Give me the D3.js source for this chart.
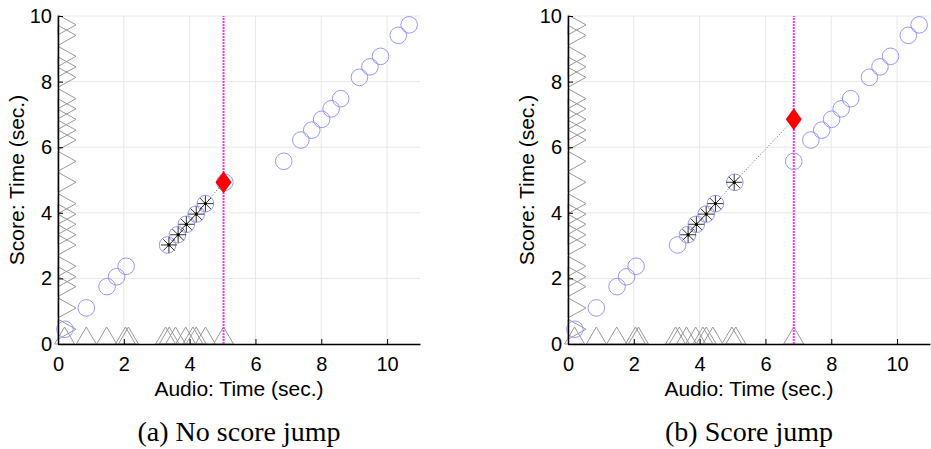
<!DOCTYPE html>
<html>
<head>
<meta charset="utf-8">
<script src="https://cdn.jsdelivr.net/npm/d3@7"></script>
<style>
  body { margin: 0; background: #fff; }
  svg { display: block; }
  .tick text { font-family: "Liberation Sans", Arial, sans-serif; font-size: 20px; fill: #000; }
</style>
</head>
<body>
<svg id="chart" width="931" height="449"></svg>
<script>
// onset positions (seconds)
var audioOnsets = [0.21, 0.86, 1.49, 1.78, 2.07, 3.33, 3.63, 3.9, 4.2, 4.48, 5.07, 6.86, 7.38, 7.71, 8.01, 8.3, 8.59, 9.16, 9.48, 9.8, 10.34, 10.67];
var scoreOnsets = [0.45, 1.1, 1.75, 2.05, 2.37, 3.02, 3.33, 3.65, 3.96, 4.28, 4.93, 5.57, 6.22, 6.52, 6.85, 7.17, 7.48, 8.13, 8.45, 8.77, 9.41, 9.73];

// detected audio onsets so far (bottom triangles)
var detectedA = [0.2, 0.86, 1.48, 2.05, 2.14, 3.27, 3.38, 3.57, 3.88, 4.1, 4.2, 4.48, 5.03];
var detectedB = [0.2, 0.86, 1.48, 2.05, 2.14, 3.27, 3.38, 3.6, 3.88, 4.1, 4.2, 4.4, 4.98, 5.1, 6.86];

// aligned path (stars) and current estimate (diamond)
var pathAudioA = [3.37, 3.65, 3.9, 4.2, 4.48];
var pathScoreA = [3.02, 3.33, 3.65, 3.96, 4.28];
var pathAudioB = [3.65, 3.9, 4.2, 4.48, 5.05];
var pathScoreB = [3.33, 3.65, 3.96, 4.28, 4.93];
var currentA = [5.03, 4.93];
var currentB = [6.86, 6.85];

var xTicks = [0, 2, 4, 6, 8, 10];
var yTicks = [0, 2, 4, 6, 8, 10];
var captions = ["(a) No score jump", "(b) Score jump"];

var svg = d3.select("#chart");

function drawPanel(left, detected, pAudio, pScore, current, caption) {
  var x = d3.scaleLinear().domain([0, 11]).range([left, left + 362]);
  var y = d3.scaleLinear().domain([0, 10]).range([344, 16]);
  var g = svg.append("g");

  // grid
  g.selectAll(".gx").data(xTicks.slice(1)).enter().append("line")
    .attr("x1", function(d) { return x(d); }).attr("x2", function(d) { return x(d); })
    .attr("y1", y(0)).attr("y2", y(10))
    .attr("stroke", "#e8e8e8").attr("stroke-width", 1);
  g.selectAll(".gy").data(yTicks.slice(1)).enter().append("line")
    .attr("x1", x(0)).attr("x2", x(11))
    .attr("y1", function(d) { return y(d); }).attr("y2", function(d) { return y(d); })
    .attr("stroke", "#e8e8e8").attr("stroke-width", 1);

  // score onset triangles along the y axis
  g.selectAll(".ty").data(scoreOnsets).enter().append("path")
    .attr("d", function(d) {
      var cy = y(d);
      return "M" + x(0) + "," + (cy - 10) + "L" + (x(0) + 18) + "," + cy + "L" + x(0) + "," + (cy + 10) + "Z";
    })
    .attr("fill", "none").attr("stroke", "#999").attr("stroke-width", 1);

  // detected audio onset triangles along the x axis
  g.selectAll(".tx").data(detected).enter().append("path")
    .attr("d", function(d) {
      var cx = x(d);
      return "M" + (cx - 10) + "," + y(0) + "L" + cx + "," + (y(0) - 17) + "L" + (cx + 10) + "," + y(0) + "Z";
    })
    .attr("fill", "none").attr("stroke", "#999").attr("stroke-width", 1);

  // current time
  g.append("line")
    .attr("x1", x(current[0])).attr("x2", x(current[0]))
    .attr("y1", y(0)).attr("y2", y(10))
    .attr("stroke", "#ff30ff").attr("stroke-width", 2).attr("stroke-dasharray", "2,1");

  // ground truth onsets
  g.selectAll(".c").data(audioOnsets).enter().append("circle")
    .attr("cx", function(d) { return x(d); })
    .attr("cy", function(d, i) { return y(scoreOnsets[i]); })
    .attr("r", 8.3)
    .attr("fill", "none").attr("stroke", "#9797ff").attr("stroke-width", 1);

  // path line
  var pts = pAudio.map(function(d, i) { return [d, pScore[i]]; });
  pts.push(current);
  g.append("path")
    .attr("d", d3.line().x(function(d) { return x(d[0]); }).y(function(d) { return y(d[1]); })(pts))
    .attr("fill", "none").attr("stroke", "#666").attr("stroke-width", 1)
    .attr("stroke-dasharray", "1,2");

  // stars
  var star = g.selectAll(".s").data(pAudio).enter().append("g")
    .attr("transform", function(d, i) { return "translate(" + x(d) + "," + y(pScore[i]) + ")"; });
  [0, 45, 90, 135].forEach(function(a) {
    var r = a * Math.PI / 180;
    star.append("line")
      .attr("x1", -8 * Math.cos(r)).attr("y1", -8 * Math.sin(r))
      .attr("x2", 8 * Math.cos(r)).attr("y2", 8 * Math.sin(r))
      .attr("stroke", "#333").attr("stroke-width", 1);
  });
  star.append("circle").attr("r", 1.6).attr("fill", "#000");

  // diamond
  g.append("path")
    .attr("d", "M0,-11L8,0L0,11L-8,0Z")
    .attr("transform", "translate(" + x(current[0]) + "," + y(current[1]) + ")")
    .attr("fill", "#ff0000");

  // axes
  var xAxis = g.append("g").attr("transform", "translate(0," + y(0) + ")")
    .call(d3.axisBottom(x).tickValues(xTicks).tickSizeInner(-5).tickSizeOuter(0).tickPadding(13));
  xAxis.select(".domain").attr("stroke", "#000").attr("stroke-width", 1.5);
  xAxis.selectAll(".tick line").attr("stroke", "#000");

  var yAxis = g.append("g").attr("transform", "translate(" + x(0) + ",0)")
    .call(d3.axisLeft(y).tickValues(yTicks).tickSizeInner(-5).tickSizeOuter(0).tickPadding(6));
  yAxis.select(".domain").attr("stroke", "#000").attr("stroke-width", 1.5);
  yAxis.selectAll(".tick line").attr("stroke", "#000");

  g.append("text")
    .attr("x", left + 181).attr("y", 396)
    .attr("text-anchor", "middle")
    .style("font-family", "Liberation Sans, Arial, sans-serif").style("font-size", "21px")
    .text("Audio: Time (sec.)");

  g.append("text")
    .attr("transform", "translate(" + (left - 34) + ",180) rotate(-90)")
    .attr("text-anchor", "middle")
    .style("font-family", "Liberation Sans, Arial, sans-serif").style("font-size", "21px")
    .text("Score: Time (sec.)");

  g.append("text")
    .attr("x", left + 181).attr("y", 441)
    .attr("text-anchor", "middle")
    .style("font-family", "Liberation Serif, Times New Roman, serif").style("font-size", "28px")
    .text(caption);
}

drawPanel(58, detectedA, pathAudioA, pathScoreA, currentA, captions[0]);
drawPanel(568, detectedB, pathAudioB, pathScoreB, currentB, captions[1]);
</script>
</body>
</html>
